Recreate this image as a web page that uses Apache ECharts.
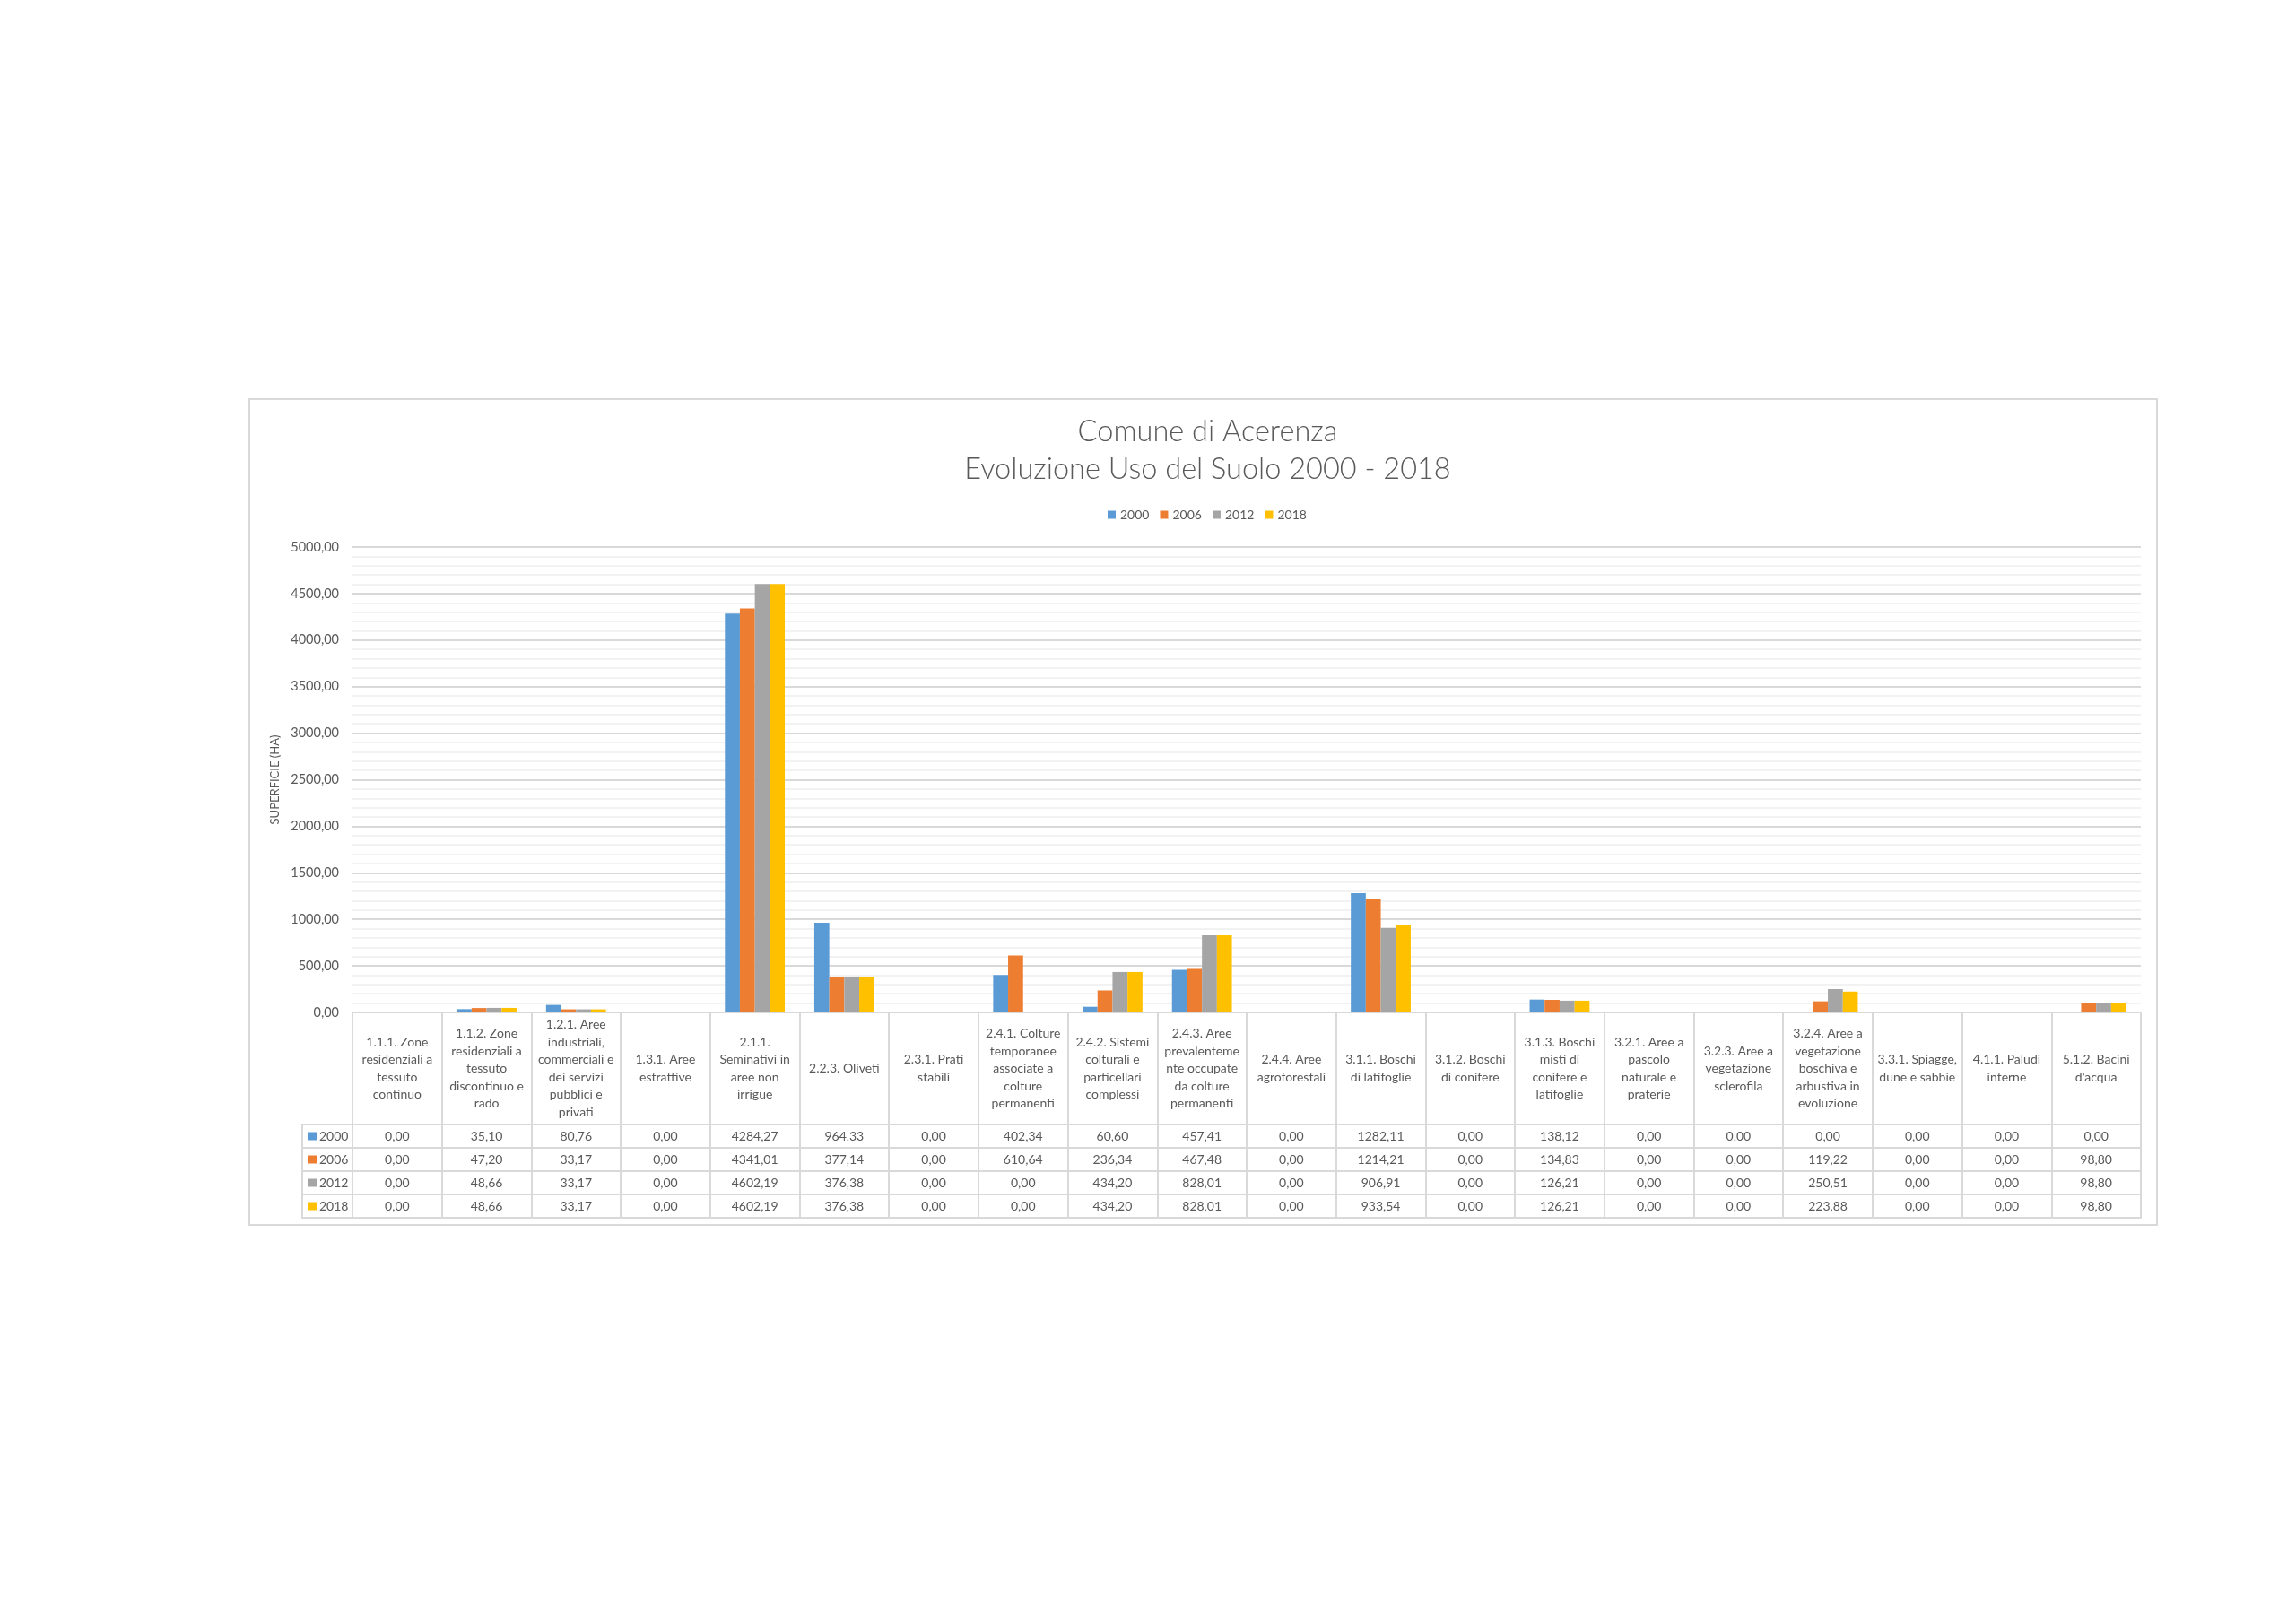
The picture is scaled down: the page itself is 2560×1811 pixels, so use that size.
<!DOCTYPE html>
<html>
<head>
<meta charset="utf-8">
<script src="https://cdn.jsdelivr.net/npm/echarts@6/dist/echarts.min.js"></script>
<style>html,body{margin:0;padding:0;background:#fff;}#c{width:2560px;height:1811px;}</style>
</head>
<body>
<div id="c"></div>
<script>
// ---- data ----
const categories = [
  '1.1.1. Zone\nresidenziali a\ntessuto\ncontinuo',
  '1.1.2. Zone\nresidenziali a\ntessuto\ndiscontinuo e\nrado',
  '1.2.1. Aree\nindustriali,\ncommerciali e\ndei servizi\npubblici e\nprivati',
  '1.3.1. Aree\nestrattive',
  '2.1.1.\nSeminativi in\naree non\nirrigue',
  '2.2.3. Oliveti',
  '2.3.1. Prati\nstabili',
  '2.4.1. Colture\ntemporanee\nassociate a\ncolture\npermanenti',
  '2.4.2. Sistemi\ncolturali e\nparticellari\ncomplessi',
  '2.4.3. Aree\nprevalenteme\nnte occupate\nda colture\npermanenti',
  '2.4.4. Aree\nagroforestali',
  '3.1.1. Boschi\ndi latifoglie',
  '3.1.2. Boschi\ndi conifere',
  '3.1.3. Boschi\nmisti di\nconifere e\nlatifoglie',
  '3.2.1. Aree a\npascolo\nnaturale e\npraterie',
  '3.2.3. Aree a\nvegetazione\nsclerofila',
  '3.2.4. Aree a\nvegetazione\nboschiva e\narbustiva in\nevoluzione',
  '3.3.1. Spiagge,\ndune e sabbie',
  '4.1.1. Paludi\ninterne',
  "5.1.2. Bacini\nd'acqua"
];
const years = ['2000', '2006', '2012', '2018'];
const values2000 = [0, 35.10, 80.76, 0, 4284.27, 964.33, 0, 402.34, 60.60, 457.41, 0, 1282.11, 0, 138.12, 0, 0, 0, 0, 0, 0];
const values2006 = [0, 47.20, 33.17, 0, 4341.01, 377.14, 0, 610.64, 236.34, 467.48, 0, 1214.21, 0, 134.83, 0, 0, 119.22, 0, 0, 98.80];
const values2012 = [0, 48.66, 33.17, 0, 4602.19, 376.38, 0, 0, 434.20, 828.01, 0, 906.91, 0, 126.21, 0, 0, 250.51, 0, 0, 98.80];
const values2018 = [0, 48.66, 33.17, 0, 4602.19, 376.38, 0, 0, 434.20, 828.01, 0, 933.54, 0, 126.21, 0, 0, 223.88, 0, 0, 98.80];
const yTicks = { min: 0, max: 5000, interval: 500 };
const titleText = 'Comune di Acerenza\nEvoluzione Uso del Suolo 2000 - 2018';
const yName = 'SUPERFICIE (HA)';

// ---- layout / style ----
const seriesValues = [values2000, values2006, values2012, values2018];
const colors = ['#5B9BD5', '#ED7D31', '#A5A5A5', '#FFC000'];
const FONT = 'Lato, "Open Sans", sans-serif';
const TXT = '#595959';
const LINE = '#d9d9d9';
const W = 2560, H = 1811;
const GL = 393, GR = 2387, GT = 610, GB = 1129;   // plot area
const HEADER_H = 125, ROW_H = 26;
const KEY_L = 337;
const FR = { x: 278, y: 445, w: 2127, h: 921 };

const fmt = v => v.toFixed(2).replace('.', ',');

const chart = echarts.init(document.getElementById('c'), null, { width: W, height: H });

const xAxes = [{
  type: 'category', gridIndex: 0, data: categories, position: 'bottom',
  axisLine: { show: true, lineStyle: { color: LINE, width: 2 } },
  axisTick: { show: true, interval: 0, length: HEADER_H + 4 * ROW_H, lineStyle: { color: LINE, width: 2 } },
  axisLabel: { interval: 0, margin: HEADER_H / 2, verticalAlign: 'middle', align: 'center',
    fontFamily: FONT, fontSize: 14, lineHeight: 19.5, color: TXT },
  splitLine: { show: false }
}];
seriesValues.forEach((vals, k) => {
  xAxes.push({
    type: 'category', gridIndex: 0, data: categories, position: 'bottom',
    offset: HEADER_H + k * ROW_H,
    axisLine: { show: true, lineStyle: { color: LINE, width: 2 } },
    axisTick: { show: false },
    axisLabel: { interval: 0, margin: ROW_H / 2, verticalAlign: 'middle', align: 'center',
      fontFamily: FONT, fontSize: 14, color: TXT,
      formatter: (v, i) => fmt(vals[i]) },
    splitLine: { show: false }
  });
});
// bottom border line of the table
xAxes.push({
  type: 'category', gridIndex: 0, data: categories, position: 'bottom',
  offset: HEADER_H + 4 * ROW_H,
  axisLine: { show: true, lineStyle: { color: LINE, width: 2 } },
  axisTick: { show: false }, axisLabel: { show: false }, splitLine: { show: false }
});

// key column (legend keys of the data table)
const keyGraphics = [];
const tableTop = GB + HEADER_H;
keyGraphics.push({ type: 'rect', shape: { x: KEY_L, y: tableTop, width: GL - KEY_L, height: 4 * ROW_H },
  style: { fill: 'none', stroke: LINE, lineWidth: 2 }, silent: true });
years.forEach((yr, k) => {
  const top = tableTop + k * ROW_H;
  if (k > 0) keyGraphics.push({ type: 'line', shape: { x1: KEY_L, y1: top, x2: GL, y2: top },
    style: { stroke: LINE, lineWidth: 2 }, silent: true });
  keyGraphics.push({ type: 'rect', shape: { x: KEY_L + 6, y: top + ROW_H / 2 - 4.5, width: 10, height: 9 },
    style: { fill: colors[k] }, silent: true });
  keyGraphics.push({ type: 'text', x: KEY_L + 19, y: top + ROW_H / 2,
    style: { text: yr, fill: TXT, font: '14px ' + FONT, textVerticalAlign: 'middle', textAlign: 'left' }, silent: true });
});

const option = {
  backgroundColor: '#ffffff',
  animation: false,
  color: colors,
  title: {
    text: titleText, left: (FR.x + FR.w / 2), top: 456, textAlign: 'center',
    textStyle: { fontFamily: FONT, fontWeight: 300, fontSize: 32.5, lineHeight: 42, color: TXT }
  },
  legend: {
    data: years, left: 1230, top: 562, itemWidth: 9, itemHeight: 9, itemGap: 12,
    icon: 'rect', textStyle: { fontFamily: FONT, fontSize: 14, color: TXT }
  },
  grid: { left: GL, right: W - GR, top: GT, bottom: H - GB, containLabel: false, outerBoundsMode: 'none' },
  xAxis: xAxes,
  yAxis: {
    type: 'value', min: yTicks.min, max: yTicks.max, interval: yTicks.interval,
    name: yName, nameLocation: 'middle', nameRotate: 90, nameGap: 76,
    nameTextStyle: { fontFamily: FONT, fontSize: 13, color: TXT },
    axisLine: { show: false }, axisTick: { show: false },
    axisLabel: { margin: 15, fontFamily: FONT, fontSize: 14.5, color: TXT, formatter: v => fmt(v) },
    splitLine: { show: true, lineStyle: { color: LINE, width: 2 } },
    minorTick: { show: false, splitNumber: 5 },
    minorSplitLine: { show: true, lineStyle: { color: '#eeeeee', width: 1.5 } }
  },
  series: seriesValues.map((vals, k) => ({
    name: years[k], type: 'bar', xAxisIndex: 0, yAxisIndex: 0, data: vals,
    barGap: '0%', barCategoryGap: '33%', itemStyle: { color: colors[k] }
  })),
  graphic: [
    { type: 'rect', shape: { x: FR.x, y: FR.y, width: FR.w, height: FR.h },
      style: { fill: 'none', stroke: LINE, lineWidth: 2 }, silent: true, z: -1 }
  ].concat(keyGraphics)
};
chart.setOption(option);
</script>
</body>
</html>
